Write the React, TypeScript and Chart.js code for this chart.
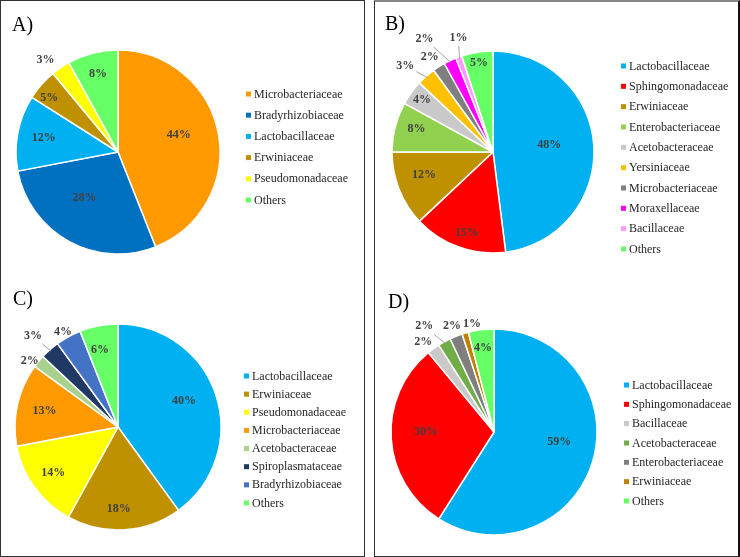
import React, { useEffect, useRef } from "react";
import { Chart, registerables } from "chart.js";

Chart.register(...registerables);

// ---------- DATA ----------
const labelsA = ["Microbacteriaceae", "Bradyrhizobiaceae", "Lactobacillaceae", "Erwiniaceae", "Pseudomonadaceae", "Others"];
const valuesA = [44, 28, 12, 5, 3, 8];
const colorsA = ["#FF9900", "#0070C0", "#00B0F0", "#BF9000", "#FFFF00", "#66FF66"];

const labelsB = ["Lactobacillaceae", "Sphingomonadaceae", "Erwiniaceae", "Enterobacteriaceae", "Acetobacteraceae", "Yersiniaceae", "Microbacteriaceae", "Moraxellaceae", "Bacillaceae", "Others"];
const valuesB = [48, 15, 12, 8, 4, 3, 2, 2, 1, 5];
const colorsB = ["#00B0F0", "#FF0000", "#BF9000", "#92D050", "#C9C9C9", "#FFC000", "#7F7F7F", "#FF00FF", "#FF99FF", "#66FF66"];

const labelsC = ["Lactobacillaceae", "Erwiniaceae", "Pseudomonadaceae", "Microbacteriaceae", "Acetobacteraceae", "Spiroplasmataceae", "Bradyrhizobiaceae", "Others"];
const valuesC = [40, 18, 14, 13, 2, 3, 4, 6];
const colorsC = ["#00B0F0", "#BF9000", "#FFFF00", "#FF9900", "#A9D18E", "#203864", "#4472C4", "#66FF66"];

const labelsD = ["Lactobacillaceae", "Sphingomonadaceae", "Bacillaceae", "Acetobacteraceae", "Enterobacteriaceae", "Erwiniaceae", "Others"];
const valuesD = [59, 30, 2, 2, 2, 1, 4];
const colorsD = ["#00B0F0", "#FF0000", "#C9C9C9", "#70AD47", "#7F7F7F", "#C08000", "#66FF66"];

// ---------- LABEL PLACEMENT (radius fraction, angle shift in degrees, leader line) ----------
const labelRadiusA = [0.62, 0.56, 0.74, 0.86, 1.15, 0.79];
const labelShiftA = [-5, 7, 0, -3, -4, 0];
const leaderA = [false, false, false, false, false, false];

const labelRadiusB = [0.56, 0.84, 0.72, 0.79, 0.87, 1.22, 1.13, 1.31, 1.18, 0.89];
const labelShiftB = [-3.5, -2, 3.2, 2.2, 0, -4, -1.2, -6, 3, 0];
const leaderB = [false, false, false, false, false, true, false, true, true, false];

const labelRadiusC = [0.69, 0.8, 0.77, 0.73, 1.07, 1.21, 1.07, 0.77];
const labelShiftC = [-3.5, 3, 0.7, 0, -2.7, -1.6, -1.2, -2.4];
const leaderC = [false, false, false, false, false, true, false, false];

const labelRadiusD = [0.64, 0.66, 1.11, 1.23, 1.11, 1.07, 0.82];
const labelShiftD = [-7.5, 3.6, -2.3, -4.6, 0, 4.7, -0.3];
const leaderD = [false, false, false, true, false, false, false];

type Panel = {
  letter: string;
  labels: string[];
  values: number[];
  colors: string[];
  labelRadius: number[];
  labelShift: number[];
  leader: boolean[];
  left: number;
  top: number;
  width: number;
  height: number;
  cx: number;
  cy: number;
  r: number;
  legendX: number;
  legendY: number;
  legendStep: number;
  letterX: number;
  letterY: number;
};

const panels: Panel[] = [
  {
    letter: "A)", labels: labelsA, values: valuesA, colors: colorsA,
    labelRadius: labelRadiusA, labelShift: labelShiftA, leader: leaderA,
    left: 0, top: 0, width: 364, height: 278, cx: 118, cy: 152, r: 102,
    legendX: 246, legendY: 94, legendStep: 21.2, letterX: 12, letterY: 31,
  },
  {
    letter: "B)", labels: labelsB, values: valuesB, colors: colorsB,
    labelRadius: labelRadiusB, labelShift: labelShiftB, leader: leaderB,
    left: 375, top: 0, width: 364, height: 278, cx: 118, cy: 152, r: 101,
    legendX: 246, legendY: 66, legendStep: 20.33, letterX: 10, letterY: 30,
  },
  {
    letter: "C)", labels: labelsC, values: valuesC, colors: colorsC,
    labelRadius: labelRadiusC, labelShift: labelShiftC, leader: leaderC,
    left: 0, top: 278, width: 364, height: 278, cx: 118, cy: 149, r: 103,
    legendX: 244, legendY: 98, legendStep: 18.14, letterX: 13, letterY: 27,
  },
  {
    letter: "D)", labels: labelsD, values: valuesD, colors: colorsD,
    labelRadius: labelRadiusD, labelShift: labelShiftD, leader: leaderD,
    left: 375, top: 278, width: 364, height: 278, cx: 119, cy: 154, r: 103,
    legendX: 249, legendY: 107, legendStep: 19.33, letterX: 13, letterY: 30,
  },
];

const SERIF = "'Liberation Serif', 'Times New Roman', serif";
const BW = 1.5;

function overlayPlugin(p: Panel) {
  return {
    id: "overlay" + p.letter[0],
    afterDraw(chart: any) {
      const ctx: CanvasRenderingContext2D = chart.ctx;
      ctx.save();
      // panel letter
      ctx.fillStyle = "#000";
      ctx.font = `20px ${SERIF}`;
      ctx.textAlign = "left";
      ctx.textBaseline = "alphabetic";
      ctx.fillText(p.letter, p.letterX, p.letterY);

      // legend
      ctx.font = `12px ${SERIF}`;
      ctx.textBaseline = "middle";
      p.labels.forEach((lab, i) => {
        const y = p.legendY + i * p.legendStep;
        ctx.fillStyle = p.colors[i];
        ctx.fillRect(p.legendX, y - 2.5, 5, 5);
        ctx.fillStyle = "#262626";
        ctx.fillText(lab, p.legendX + 8, y + 0.5);
      });

      // slice labels
      const meta = chart.getDatasetMeta(0);
      ctx.font = `bold 12px ${SERIF}`;
      ctx.textAlign = "center";
      ctx.textBaseline = "middle";
      meta.data.forEach((arc: any, i: number) => {
        const pr = arc.getProps(["x", "y", "startAngle", "endAngle", "outerRadius"], true);
        const mid = (pr.startAngle + pr.endAngle) / 2;
        const a = mid + (p.labelShift[i] * Math.PI) / 180;
        const lx = pr.x + Math.cos(a) * pr.outerRadius * p.labelRadius[i];
        const ly = pr.y + Math.sin(a) * pr.outerRadius * p.labelRadius[i];
        const text = Math.round(p.values[i]) + "%";
        if (p.leader[i]) {
          const ex = pr.x + Math.cos(mid) * pr.outerRadius * 0.98;
          const ey = pr.y + Math.sin(mid) * pr.outerRadius * 0.98;
          const w = ctx.measureText(text).width / 2 + 2;
          const h = 8;
          const dx = ex - lx;
          const dy = ey - ly;
          const t = Math.min(dx !== 0 ? w / Math.abs(dx) : 1e9, dy !== 0 ? h / Math.abs(dy) : 1e9);
          ctx.strokeStyle = "#A6A6A6";
          ctx.lineWidth = 1;
          ctx.beginPath();
          ctx.moveTo(lx + dx * t, ly + dy * t);
          ctx.lineTo(ex, ey);
          ctx.stroke();
        }
        ctx.fillStyle = "#404040";
        ctx.fillText(text, lx, ly);
      });
      ctx.restore();
    },
  };
}

function PieCanvas({ p }: { p: Panel }) {
  const ref = useRef<HTMLCanvasElement | null>(null);
  useEffect(() => {
    if (!ref.current) return;
    const half = p.r + BW / 2;
    const chart = new Chart(ref.current, {
      type: "pie",
      data: {
        labels: p.labels,
        datasets: [
          {
            data: p.values,
            backgroundColor: p.colors,
            borderColor: "#FFFFFF",
            borderWidth: BW,
          },
        ],
      },
      options: {
        responsive: false,
        animation: false,
        devicePixelRatio: 1,
        layout: {
          padding: {
            left: p.cx - half,
            top: p.cy - half,
            right: p.width - p.cx - half,
            bottom: p.height - p.cy - half,
          },
        },
        plugins: {
          legend: { display: false },
          tooltip: { enabled: false },
          title: { display: false },
        },
      },
      plugins: [overlayPlugin(p)],
    } as any);
    return () => chart.destroy();
  }, [p]);
  return (
    <canvas
      ref={ref}
      width={p.width}
      height={p.height}
      style={{ position: "absolute", left: p.left, top: p.top, width: p.width, height: p.height }}
    />
  );
}

export default function App() {
  return (
    <div style={{ position: "fixed", left: 0, top: 0, width: 740, height: 557, background: "#fff", overflow: "hidden" }}>
      <div style={{ position: "absolute", left: 0, top: 0, width: 365, height: 557, boxSizing: "border-box", border: "1.5px solid #333" }} />
      <div style={{ position: "absolute", left: 374, top: 0, width: 366, height: 557, boxSizing: "border-box", borderTop: "2px solid #888", borderLeft: "1.5px solid #333", borderRight: "2px solid #111", borderBottom: "1.5px solid #333" }} />
      {panels.map((p) => (
        <PieCanvas key={p.letter} p={p} />
      ))}
    </div>
  );
}
